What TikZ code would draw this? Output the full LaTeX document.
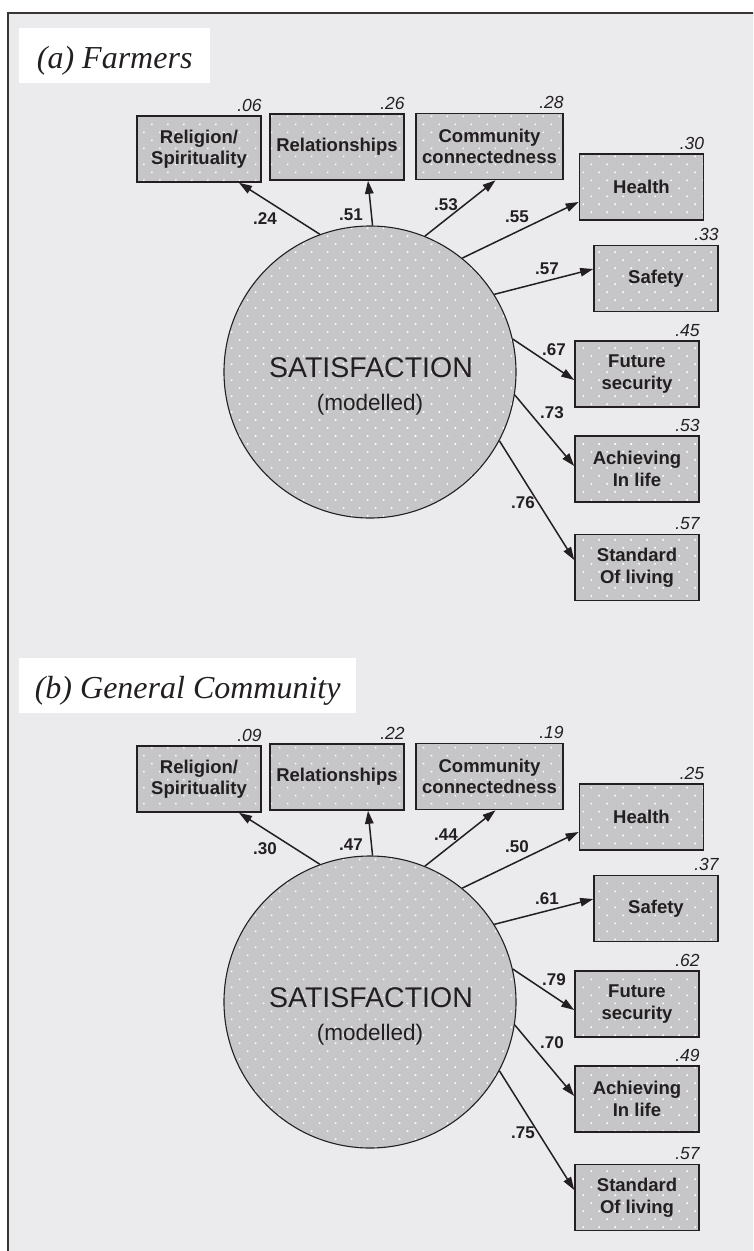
\documentclass[tikz,border=0pt]{standalone}
\usepackage{fontspec}
\setmainfont{Liberation Serif}
\setsansfont{Liberation Sans}
\usetikzlibrary{arrows.meta, patterns.meta}

\definecolor{paneBg}{HTML}{EBEBED}
\definecolor{boxGrey}{HTML}{C6C6C8}
\definecolor{inkGrey}{HTML}{231F20}

\tikzset{
	dotfill/.style={preaction={fill=boxGrey}, pattern={Dots[distance=11.3pt, angle=45, radius=1.1pt]}, pattern color=white},
	obs/.style={draw=inkGrey, line width=1.6pt, dotfill, minimum width=124pt, minimum height=66pt, inner sep=0pt, align=center, text=inkGrey, font=\sffamily\bfseries\fontsize{18.5}{21.5}\selectfont},
	latent/.style={circle, draw=inkGrey, line width=1.1pt, dotfill, minimum size=292pt, inner sep=0pt},
	coef/.style={inner sep=0pt, text=inkGrey, font=\sffamily\bfseries\fontsize{17}{18}\selectfont},
	rsq/.style={anchor=base east, inner sep=0pt, text=inkGrey, font=\sffamily\itshape\fontsize{17.5}{18}\selectfont},
	loading/.style={line width=1.5pt, draw=inkGrey, -{Triangle[length=13pt, width=8.5pt]}},
	titlebox/.style={fill=white, anchor=north west, minimum height=55pt, inner sep=0pt, text height=26pt, text depth=0pt, text=inkGrey, font=\itshape\fontsize{32}{36}\selectfont}
}

% #1 name, #2 shift down, #3 title, #4 title width, #5 loadings
\newcommand\DrawPanel[5]{
	\begin{scope}[yshift=-#2pt]
		\node[titlebox, minimum width=#4pt] (#1-title) at (19,28) {#3};
		\node[latent] (#1-sat) at (370,372) {};
		\node[anchor=base, inner sep=0pt, text=inkGrey, font=\sffamily\fontsize{28.5}{30}\selectfont] (#1-satname) at (371,377) {SATISFACTION};
		\node[anchor=base, inner sep=0pt, text=inkGrey, font=\sffamily\fontsize{22.5}{24}\selectfont] (#1-satnote) at (370,410) {(modelled)};
		\node[obs] (#1-rel) at (199,149) {Religion/\\Spirituality};
		\node[obs, minimum width=134pt] (#1-relat) at (337,147) {Relationships};
		\node[obs, minimum width=147pt] (#1-comm) at (489.5,146.5) {Community\\connectedness};
		\node[obs] (#1-health) at (641.5,187) {Health};
		\node[obs] (#1-safety) at (656,278.5) {Safety};
		\node[obs] (#1-future) at (637,374) {Future\\security};
		\node[obs] (#1-achiev) at (637,469) {Achieving\\In life};
		\node[obs] (#1-stand) at (637,567.5) {Standard\\Of living};
		\foreach \nm/\ang/\side/\dx/\dy/\val/\lx/\ly/\rsq in {#5}
		{
			\draw[loading] (#1-sat.\ang) -- ([xshift=\dx pt, yshift=\dy pt]#1-\nm.\side);
			\node[coef] (#1-\nm-coef) at (\lx,\ly) {\val};
			\node[rsq] (#1-\nm-rsq) at ([yshift=4pt]#1-\nm.north east) {\rsq};
		}
	\end{scope}
}

\begin{document}
\begin{tikzpicture}[x=1pt, y=-1pt]
	\clip (0,0) rectangle (753,1251);
	\draw[draw=inkGrey!90, line width=2pt, fill=paneBg] (8,13) rectangle (780,1280);
% farmers
	\DrawPanel{a}{0}{(a) Farmers}{191}{rel/110/south/40/0/.24/265/219/.06, relat/89/south/31/0/.51/351/215/.26, comm/68/south/6/0/.53/446/205/.28, health/51/west/0/-15/.55/517/217/.30, safety/32/west/0/9.5/.57/547/269/.33, future/13/west/0/-6/.67/554/350/.45, achiev/-9/west/0/3/.73/552/413/.53, stand/-28/west/0/7.5/.76/523/503/.57}
% general community
	\DrawPanel{b}{630}{(b) General Community}{337}{rel/110/south/40/0/.30/265/219/.09, relat/89/south/31/0/.47/351/215/.22, comm/68/south/6/0/.44/446/205/.19, health/51/west/0/-15/.50/517/217/.25, safety/32/west/0/9.5/.61/547/269/.37, future/13/west/0/-6/.79/554/350/.62, achiev/-9/west/0/3/.70/552/413/.49, stand/-28/west/0/7.5/.75/523/503/.57}
\end{tikzpicture}
\end{document}
